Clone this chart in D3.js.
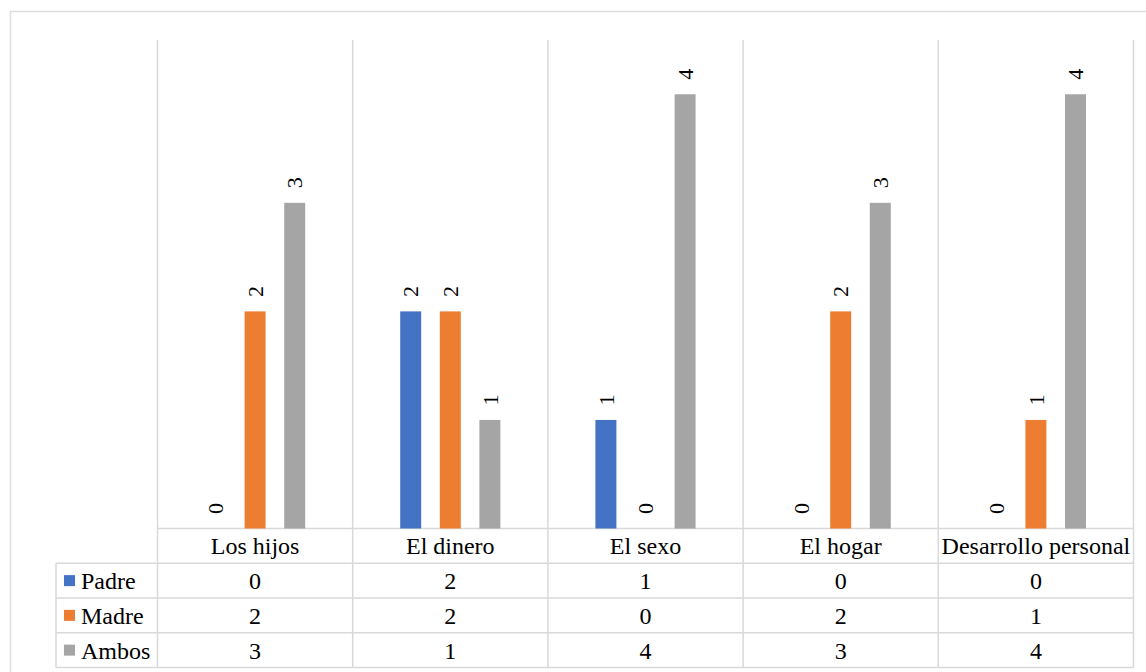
<!DOCTYPE html>
<html>
<head>
<meta charset="utf-8">
<script src="https://cdn.jsdelivr.net/npm/d3@7/dist/d3.min.js"></script>
</head>
<body style="margin:0;padding:0;background:#fff">
<svg id="chart" width="1146" height="672" style="position:absolute;left:0;top:0"></svg>
<script>
const categories = ["Los hijos", "El dinero", "El sexo", "El hogar", "Desarrollo personal"];
const seriesNames = ["Padre", "Madre", "Ambos"];
const padre = [0, 2, 1, 0, 0];
const madre = [2, 2, 0, 2, 1];
const ambos = [3, 1, 4, 3, 4];
const colors = ["#4472C4", "#ED7D31", "#A5A5A5"];

const seriesValues = [padre, madre, ambos];
const series = seriesNames.map((name, i) => ({ name, color: colors[i], values: seriesValues[i] }));

const FONT = '"Liberation Serif"';
const svg = d3.select("#chart");
const W = 1146, H = 672;
const gridColor = "#D9D9D9";

// outer chart border
svg.append("rect")
  .attr("x", 10.5).attr("y", 11.5)
  .attr("width", W + 20).attr("height", H + 20)
  .attr("fill", "none").attr("stroke", "#DEDEDE").attr("stroke-width", 1.5);

const plotLeft = 157.5, plotRight = 1133.5, plotTop = 40, baseY = 528.5;
const x0 = d3.scaleBand().domain(categories).range([plotLeft, plotRight]).padding(0);
const x1 = d3.scaleBand().domain(seriesNames).range([0, x0.bandwidth()])
  .paddingInner(0.47).paddingOuter(1.2);
const y = d3.scaleLinear().domain([0, 4.5]).range([baseY, plotTop]);

// table rows
const rowKeys = ["header"].concat(seriesNames);
const rows = d3.scaleBand().domain(rowKeys).range([528.5, 667.5]);
const tableBottom = rows.range()[1];
const legendLeft = 56;

// vertical category separators (plot + table)
const vLines = [plotLeft].concat(categories.map(c => x0(c) + x0.bandwidth()));
svg.append("g").selectAll("line").data(vLines).join("line")
  .attr("x1", d => d).attr("x2", d => d)
  .attr("y1", plotTop).attr("y2", tableBottom)
  .attr("stroke", gridColor).attr("stroke-width", 1.5);

// horizontal table lines
const hLines = rowKeys.map(k => ({ y: rows(k), x1: k === "header" ? plotLeft : legendLeft }))
  .concat([{ y: tableBottom, x1: legendLeft }]);
svg.append("g").selectAll("line").data(hLines).join("line")
  .attr("x1", d => d.x1).attr("x2", plotRight)
  .attr("y1", d => d.y).attr("y2", d => d.y)
  .attr("stroke", gridColor).attr("stroke-width", 1.5);
// left edge of legend column
svg.append("line")
  .attr("x1", legendLeft).attr("x2", legendLeft)
  .attr("y1", rows("Padre")).attr("y2", tableBottom)
  .attr("stroke", gridColor).attr("stroke-width", 1.5);

// bars
const groups = svg.append("g").selectAll("g").data(categories).join("g")
  .attr("transform", c => `translate(${x0(c)},0)`);
groups.selectAll("rect")
  .data((c, ci) => series.map(s => ({ s, v: s.values[ci] })))
  .join("rect")
  .attr("x", d => x1(d.s.name))
  .attr("width", x1.bandwidth())
  .attr("y", d => y(d.v))
  .attr("height", d => y(0) - y(d.v))
  .attr("fill", d => d.s.color);

// rotated data labels
groups.selectAll("text")
  .data((c, ci) => series.map(s => ({ s, v: s.values[ci] })))
  .join("text")
  .attr("transform", d => `translate(${x1(d.s.name) + x1.bandwidth() / 2},${y(d.v) - 20}) rotate(-90)`)
  .attr("text-anchor", "middle")
  .attr("dy", "0.35em")
  .style("font-family", FONT)
  .attr("font-size", 22)
  .text(d => d.v);

// category header row
svg.append("g").selectAll("text").data(categories).join("text")
  .attr("x", c => x0(c) + x0.bandwidth() / 2)
  .attr("y", rows("header") + rows.bandwidth() / 2)
  .attr("dy", "0.35em")
  .attr("text-anchor", "middle")
  .style("font-family", FONT)
  .attr("font-size", 24)
  .text(c => c);

// series rows
series.forEach(s => {
  const cy = rows(s.name) + rows.bandwidth() / 2;
  svg.append("rect")
    .attr("x", 64).attr("y", cy - 5.5)
    .attr("width", 11).attr("height", 11)
    .attr("fill", s.color);
  svg.append("text")
    .attr("x", 81).attr("y", cy).attr("dy", "0.35em")
    .style("font-family", FONT)
    .attr("font-size", 24)
    .text(s.name);
  svg.append("g").selectAll("text").data(s.values).join("text")
    .attr("x", (v, i) => x0(categories[i]) + x0.bandwidth() / 2)
    .attr("y", cy).attr("dy", "0.35em")
    .attr("text-anchor", "middle")
    .style("font-family", FONT)
    .attr("font-size", 24)
    .text(v => v);
});

svg.selectAll("text").each(function () { this.getComputedTextLength(); });
</script>
</body>
</html>
